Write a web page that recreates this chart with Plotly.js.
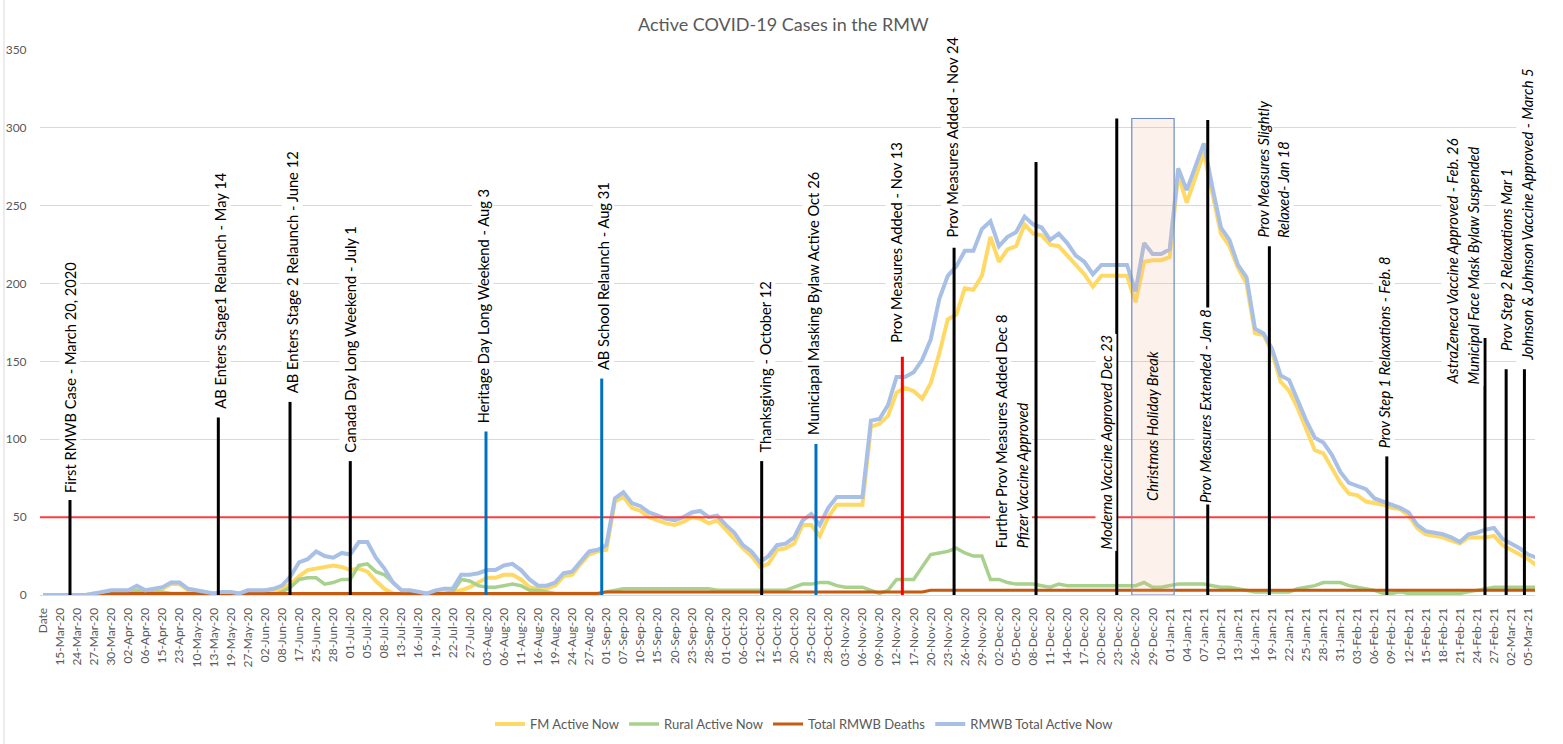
<!DOCTYPE html>
<html>
<head>
<meta charset="utf-8">
<script src="https://cdn.plot.ly/plotly-3.0.1.min.js"></script>
<style>html,body{margin:0;padding:0;background:#fff;}#chart{width:1563px;height:744px;}</style>
</head>
<body>
<div id="chart"></div>
<script>
// ---------- DATA ----------
const tickLabels = ['Date','15-Mar-20','24-Mar-20','27-Mar-20','30-Mar-20','02-Apr-20','06-Apr-20','15-Apr-20','23-Apr-20','10-May-20',
'13-May-20','19-May-20','27-May-20','02-Jun-20','08-Jun-20','17-Jun-20','25-Jun-20','28-Jun-20','01-Jul-20','05-Jul-20',
'08-Jul-20','13-Jul-20','16-Jul-20','19-Jul-20','22-Jul-20','27-Jul-20','03-Aug-20','06-Aug-20','11-Aug-20','16-Aug-20',
'19-Aug-20','24-Aug-20','27-Aug-20','01-Sep-20','07-Sep-20','10-Sep-20','15-Sep-20','20-Sep-20','23-Sep-20','28-Sep-20',
'01-Oct-20','06-Oct-20','12-Oct-20','15-Oct-20','20-Oct-20','25-Oct-20','28-Oct-20','03-Nov-20','06-Nov-20','09-Nov-20',
'12-Nov-20','17-Nov-20','20-Nov-20','23-Nov-20','26-Nov-20','29-Nov-20','02-Dec-20','05-Dec-20','08-Dec-20','11-Dec-20',
'14-Dec-20','17-Dec-20','20-Dec-20','23-Dec-20','26-Dec-20','29-Dec-20','01-Jan-21','04-Jan-21','07-Jan-21','10-Jan-21',
'13-Jan-21','16-Jan-21','19-Jan-21','22-Jan-21','25-Jan-21','28-Jan-21','31-Jan-21','03-Feb-21','06-Feb-21','09-Feb-21',
'12-Feb-21','15-Feb-21','18-Feb-21','21-Feb-21','24-Feb-21','27-Feb-21','02-Mar-21','05-Mar-21'];

// values sampled every half label step along the category axis
const fmActive = [
0,0,0,0,0,0,1,1,2,2,
2,3,2,3,4,7,7,3,2,1,
1,1,1,1,2,2,2,3,4,7,
12,16,17,18,19,18,16,17,15,9,
4,1,0,0,0,0,1,1,2,3,
5,8,11,11,13,13,10,5,4,4,
6,12,13,20,26,28,29,60,63,56,
54,50,48,46,45,47,50,49,46,48,
42,36,30,25,18,20,29,30,33,45,
45,38,50,58,58,58,58,108,110,115,
130,133,131,126,136,155,177,180,197,196,
205,230,214,222,224,238,232,231,225,224,
218,212,206,198,205,205,205,205,188,214,
215,215,217,270,252,268,284,258,232,224,
210,200,168,167,156,137,131,120,106,93,
91,82,72,65,64,60,59,58,56,55,
51,43,39,38,37,35,33,37,37,37,
38,32,29,26,23,19];

const ruralActive = [
0,0,0,0,0,0,0,0,0,0,
1,3,1,2,2,1,1,1,1,0,
0,0,0,0,0,0,0,0,2,5,
10,11,11,7,8,10,10,19,20,15,
13,8,3,1,1,1,1,1,2,10,
9,6,5,5,6,7,6,3,3,2,
1,1,1,1,1,1,2,3,4,4,
4,4,4,4,4,4,4,4,4,3,
3,3,3,3,3,3,3,3,5,7,
7,8,8,6,5,5,5,3,1,3,
10,10,10,18,26,27,28,30,27,25,
25,10,10,8,7,7,7,6,5,7,
6,6,6,6,6,6,6,6,6,8,
5,5,6,7,7,7,7,6,5,5,
4,3,2,2,2,2,2,4,5,6,
8,8,8,6,5,4,3,1,1,2,
1,1,1,1,1,1,1,2,3,4,
5,5,5,5,5,5];

const totalDeaths = [
0,0,0,0,0,0,0,0,1,1,
1,1,1,1,1,1,1,1,1,1,
1,1,1,1,1,1,1,1,1,1,
1,1,1,1,1,1,1,1,1,1,
1,1,1,1,1,1,1,1,1,1,
1,1,1,1,1,1,1,1,1,1,
1,1,1,1,1,1,2,2,2,2,
2,2,2,2,2,2,2,2,2,2,
2,2,2,2,2,2,2,2,2,2,
2,2,2,2,2,2,2,2,2,2,
2,2,2,2,3,3,3,3,3,3,
3,3,3,3,3,3,3,3,3,3,
3,3,3,3,3,3,3,3,3,3,
3,3,3,3,3,3,3,3,3,3,
3,3,3,3,3,3,3,3,3,3,
3,3,3,3,3,3,3,3,3,3,
3,3,3,3,3,3,3,3,3,3,
3,3,3,3,3,3];

const totalActive = [
0,0,0,0,0,0,1,2,3,3,
3,6,3,4,5,8,8,4,3,2,
1,2,2,1,3,3,3,4,6,12,
21,23,28,25,24,27,26,34,34,24,
17,8,3,3,2,1,3,4,4,13,
13,14,16,16,19,20,16,10,6,6,
8,14,15,22,28,29,32,62,66,59,
57,53,51,49,48,50,53,54,50,51,
45,40,32,28,21,25,32,33,37,48,
52,45,56,63,63,63,63,112,113,122,
140,140,143,151,164,190,205,211,221,221,
235,240,224,230,233,243,238,236,228,232,
226,218,214,206,212,212,212,212,195,226,
219,219,222,274,260,276,290,262,236,228,
212,204,171,168,158,141,138,125,112,101,
98,90,79,72,70,68,62,60,58,56,
53,45,41,40,39,37,34,39,40,42,
43,36,33,30,26,24];

const seriesNames = ['FM Active Now','Rural Active Now','Total RMWB Deaths','RMWB Total Active Now'];

const thresholdValue = 50;

const eventLabels = [
 'First RMWB Case - March 20, 2020',
 'AB Enters Stage1 Relaunch - May 14',
 'AB Enters Stage 2 Relaunch - June 12',
 'Canada Day Long Weekend - July 1',
 'Heritage Day Long Weekend - Aug 3',
 'AB School Relaunch - Aug 31',
 'Thanksgiving - October 12',
 'Municiapal Masking Bylaw Active Oct 26',
 'Prov Measures Added - Nov 13',
 'Prov Measures Added - Nov 24',
 'Further Prov Measures Added Dec 8\nPfizer Vaccine Approved',
 'Moderna Vaccine Aoproved Dec 23',
 'Prov Measures Extended - Jan 8',
 'Prov Measures Slightly\nRelaxed- Jan 18',
 'Prov Step 1 Relaxations - Feb. 8',
 'AstraZeneca Vaccine Approved - Feb. 26\nMunicipal Face Mask Bylaw Suspended',
 'Prov Step 2 Relaxations Mar 1',
 'Johnson & Johnson Vaccine Approved - March 5'];
// event position on the category axis (label index units) and marker height (cases)
const eventPos = [1.58,10.27,14.47,18.0,25.95,32.73,42.1,45.28,50.34,53.37,58.17,62.9,68.23,71.84,78.72,84.47,85.71,86.78];
const eventTop = [61,114,124,86,105,139,86,97,153,223,278,306,305,224,89,165,145,145];

const breakLabel = 'Christmas Holiday Break';
const breakRange = [63.78, 66.26];
const breakTop = 306;

// ---------- STYLE / PLACEMENT ----------
const seriesColors = ['#FFD966','#A9D18E','#C55A11','#A8BFE6'];
const seriesWidths = [4,3.5,3,4];
const eventColors = ['#000','#000','#000','#000','#0070C0','#0070C0','#000','#0070C0','#FF0000','#000','#000','#000','#000','#000','#000','#000','#000','#000'];
// text block centre (axis units) and text bottom (value units)
const textX = [1.58,10.37,14.6,18.0,25.78,32.85,42.3,45.1,50.0,53.25,56.7,62.25,68.07,72.06,78.56,83.13,85.74,86.92];
const textBottom = [64.5,118,128.5,90,109,143,90,101.7,160.7,228,29,27.8,57.8,228,93,133.7,155.5,149];
const italicLines = [[0],[0],[0],[0],[0],[0],[0],[0],[0],[0],[0,1],[1],[1],[1,1],[1],[1,1],[1],[1]];

const FONT = 'Lato, "Open Sans", "DejaVu Sans", sans-serif';
const GRAY = '#595959';
const step = 0.5;

const allSeries = [fmActive, ruralActive, totalDeaths, totalActive];
const traces = allSeries.map((vals, s) => ({
  type: 'scatter', mode: 'lines',
  x: vals.map((_, k) => k * step), y: vals,
  name: seriesNames[s],
  line: {color: seriesColors[s], width: seriesWidths[s]},
  hoverinfo: 'skip'
}));

const shapes = [];
shapes.push({type:'line', xref:'paper', x0:0, x1:1, yref:'y', y0:thresholdValue, y1:thresholdValue,
  line:{color:'#FF3B3B', width:2}, layer:'above'});
shapes.push({type:'line', xref:'paper', x0:-0.0241, x1:-0.0241, yref:'paper', y0:-0.275, y1:1.1,
  line:{color:'#D9D9D9', width:1}, layer:'below'});
eventPos.forEach((p, i) => {
  shapes.push({type:'line', xref:'x', yref:'y', x0:p, x1:p, y0:0, y1:eventTop[i],
    line:{color:eventColors[i], width:3}, layer:'above'});
});
shapes.push({type:'rect', xref:'x', yref:'y', x0:breakRange[0], x1:breakRange[1], y0:0, y1:breakTop,
  fillcolor:'rgba(244,177,131,0.16)', line:{color:'#6A8CC0', width:1.2}, layer:'above'});

const annotations = [];
const LINE_GAP = 21;
const ANN_SIZE = 14.7;
eventLabels.forEach((lab, i) => {
  const lines = lab.split('\n');
  const n = lines.length;
  lines.forEach((ln, k) => {
    const it = italicLines[i][k];
    annotations.push({
      xref:'x', yref:'y', x:textX[i], y:textBottom[i],
      xshift:(k - (n - 1) / 2) * LINE_GAP,
      xanchor:'center', yanchor:'bottom',
      text: it ? '<i>' + ln + '</i>' : ln,
      textangle:-90, showarrow:false,
      font:{family:FONT, size:ANN_SIZE, color:'#000'},
      bgcolor:'#FFFFFF', borderpad:1
    });
  });
});
annotations.push({
  xref:'x', yref:'y', x:(breakRange[0] + breakRange[1]) / 2 - 0.1, y:59,
  xanchor:'center', yanchor:'bottom', text:'<i>' + breakLabel + '</i>',
  textangle:-90, showarrow:false, font:{family:FONT, size:ANN_SIZE, color:'#000'}
});

const layout = {
  width:1563, height:744,
  paper_bgcolor:'#FFFFFF', plot_bgcolor:'#FFFFFF',
  margin:{l:40, r:28, t:50, b:149, autoexpand:false},
  font:{family:FONT, color:GRAY},
  title:{text:'Active COVID-19 Cases in the RMW', x:638/1563, xanchor:'left', xref:'container',
    y:1 - 25/744, yanchor:'middle', yref:'container', font:{family:FONT, size:18, color:GRAY}},
  showlegend:true,
  legend:{orientation:'h', x:0.301, xanchor:'left', y:-0.237, yanchor:'middle',
    font:{family:FONT, size:13, color:GRAY}, bgcolor:'rgba(0,0,0,0)'},
  xaxis:{
    range:[-0.176, 87.4], tickmode:'array',
    tickvals:tickLabels.map((_, i) => i), ticktext:tickLabels,
    tickangle:-90, tickfont:{family:FONT, size:12, color:GRAY},
    ticks:'outside', ticklen:7, tickcolor:'rgba(0,0,0,0)',
    showgrid:false, zeroline:false, showline:true, linecolor:'#D9D9D9', linewidth:1,
    automargin:false, fixedrange:true
  },
  yaxis:{
    range:[0, 350], dtick:50, tick0:0,
    tickfont:{family:FONT, size:12, color:GRAY},
    ticks:'outside', ticklen:10, tickcolor:'rgba(0,0,0,0)',
    showgrid:true, gridcolor:'#D9D9D9', gridwidth:1,
    zeroline:false, showline:false, automargin:false, fixedrange:true
  },
  shapes:shapes, annotations:annotations,
  hovermode:false
};

Plotly.newPlot('chart', traces, layout, {displayModeBar:false, staticPlot:true});
</script>
</body>
</html>
